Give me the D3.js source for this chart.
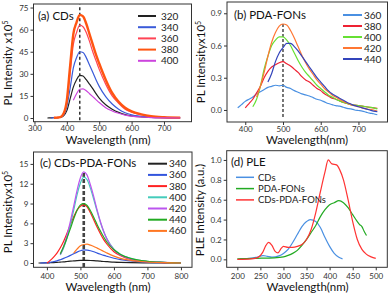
<!DOCTYPE html>
<html>
<head>
<meta charset="utf-8">
<script src="https://cdn.jsdelivr.net/npm/d3@7"></script>
<style>
  body { margin: 0; background: #fff; }
  svg { display: block; font-family: Lato, sans-serif; }
</style>
</head>
<body>
<svg id="chart" width="390" height="296"></svg>
<script>
// ---- (a) CDs ----
const wlA = [340, 350, 360, 370, 380, 390, 400, 410, 420, 430, 440, 450, 460, 470, 480, 490, 500, 520, 540, 560, 580, 600, 630, 660, 700, 750];
const a320 = [0, 0.1, 0.2, 0.3, 0.5, 1.5, 5, 13, 21, 26, 29, 28.5, 26, 23, 20, 16.5, 13.5, 9, 6, 3.8, 2.3, 1.4, 0.8, 0.4, 0.2, 0.1];
const a340 = [null, 0, 0.2, 0.3, 0.5, 2, 8, 20, 34, 41, 45, 44.5, 41, 36, 31, 26, 21.5, 14.5, 9.5, 6, 3.6, 2.2, 1.2, 0.6, 0.3, 0.1];
const a360 = [null, null, 0.2, 0.3, 0.6, 3, 11, 30, 50, 58, 63, 62, 58, 52, 45, 39, 33, 23, 15, 10, 6, 4, 2.2, 1, 0.4, 0.2];
const a380 = [null, null, 0.2, 0.3, 0.6, 3, 12, 35, 57, 65, 70, 69, 64, 57, 50, 43, 37, 26, 17, 11, 7, 4.5, 2.5, 1.2, 0.5, 0.2];
const a400 = [null, null, null, null, null, null, null, null, 12, 16.5, 19.5, 19.8, 18.5, 16.5, 14.5, 12.5, 10.5, 7, 4.8, 3.2, 2, 1.3, 0.7, 0.3, 0.1, 0];
const namesA = ["320", "340", "360", "380", "400"];
const xTicksA = [300, 400, 500, 600, 700];
const yTicksA = [0, 15, 30, 45, 60, 75];

// ---- (b) PDA-FONs ----
const wlB = [380, 390, 400, 410, 420, 430, 440, 450, 460, 470, 480, 490, 500, 510, 520, 530, 540, 550, 560, 570, 580, 590, 600, 610, 620, 630, 640, 650, 660, 670, 680, 690, 700, 710, 720, 730, 740, 750];
const b360 = [0.02, 0.05, 0.08, 0.1, 0.12, 0.15, 0.17, 0.19, 0.21, 0.22, 0.23, 0.225, 0.23, 0.21, 0.2, 0.18, 0.165, 0.15, 0.14, 0.13, 0.115, 0.1, 0.09, 0.075, 0.06, 0.05, 0.04, 0.035, 0.025, 0.015, 0.01, 0, -0.005, -0.01, -0.02, -0.03, -0.035, -0.045];
const b380 = [null, null, 0.02, 0.06, 0.1, 0.16, 0.22, 0.3, 0.36, 0.4, 0.42, 0.44, 0.45, 0.43, 0.41, 0.38, 0.35, 0.31, 0.28, 0.26, 0.23, 0.2, 0.18, 0.15, 0.13, 0.11, 0.1, 0.085, 0.07, 0.06, 0.05, 0.045, 0.04, 0.035, 0.03, 0.025, 0.02, 0.015];
const b400 = [null, null, null, null, 0.03, 0.1, 0.22, 0.38, 0.5, 0.6, 0.65, 0.68, 0.68, 0.65, 0.6, 0.53, 0.46, 0.4, 0.35, 0.31, 0.27, 0.23, 0.2, 0.17, 0.14, 0.12, 0.1, 0.085, 0.07, 0.06, 0.05, 0.045, 0.04, 0.035, 0.03, 0.025, 0.02, 0.01];
const b420 = [null, null, null, null, null, 0.12, 0.22, 0.35, 0.5, 0.63, 0.72, 0.78, 0.8, 0.79, 0.74, 0.67, 0.59, 0.51, 0.44, 0.38, 0.33, 0.28, 0.24, 0.2, 0.17, 0.14, 0.12, 0.1, 0.08, 0.065, 0.05, 0.04, 0.03, 0.02, 0.01, 0.005, 0, -0.01];
const b440 = [null, null, null, null, null, null, null, null, 0.26, 0.34, 0.45, 0.53, 0.58, 0.62, 0.62, 0.59, 0.55, 0.5, 0.45, 0.4, 0.35, 0.3, 0.26, 0.22, 0.18, 0.15, 0.13, 0.11, 0.09, 0.07, 0.055, 0.04, 0.03, 0.02, 0.01, 0, -0.01, -0.015];
const namesB = ["360", "380", "400", "420", "440"];
const xTicksB = [400, 500, 600, 700];
const yTicksB = [0, 0.3, 0.6, 0.9];

// ---- (c) CDs-PDA-FONs ----
const wlC = [375, 380, 400, 410, 420, 430, 440, 450, 460, 470, 480, 490, 500, 510, 520, 530, 540, 550, 560, 570, 580, 600, 620, 650, 700, 750, 800];
const c340 = [0, 0, 0.02, 0.04, 0.06, 0.1, 0.14, 0.18, 0.23, 0.28, 0.32, 0.36, 0.39, 0.41, 0.4, 0.38, 0.35, 0.31, 0.27, 0.23, 0.2, 0.14, 0.1, 0.06, 0.02, 0.01, 0];
const c360 = [null, 0, 0.05, 0.1, 0.2, 0.32, 0.5, 0.7, 0.92, 1.15, 1.4, 1.65, 1.85, 1.98, 1.95, 1.85, 1.7, 1.5, 1.32, 1.15, 1, 0.72, 0.5, 0.3, 0.1, 0.03, 0];
const c380 = [null, null, 0, 0.4, 0.9, 1.5, 2.3, 3.3, 4.5, 5.8, 7, 8, 8.6, 8.8, 8.5, 7.6, 6.5, 5.4, 4.4, 3.5, 2.8, 1.7, 1.1, 0.55, 0.2, 0.05, 0];
const c400 = [null, null, null, null, null, null, 1.2, 2.3, 3.8, 5.8, 8, 10.3, 12.1, 13, 12.6, 11.3, 9.6, 7.8, 6.1, 4.7, 3.6, 2.1, 1.3, 0.7, 0.25, 0.1, 0];
const c420 = [null, null, null, null, null, null, 1.3, 2.5, 4.2, 6.3, 8.6, 11, 12.9, 13.8, 13.3, 11.8, 10, 8, 6.2, 4.7, 3.5, 2, 1.2, 0.6, 0.2, 0.1, 0];
const c440 = [null, null, null, null, null, null, 1.4, 2.5, 3.8, 5.2, 6.7, 8, 8.8, 9, 8.7, 7.9, 6.9, 5.8, 4.8, 3.9, 3.1, 2, 1.3, 0.7, 0.25, 0.1, 0];
const c460 = [null, null, null, null, null, null, null, null, null, null, 1.5, 2.1, 2.6, 2.8, 2.85, 2.7, 2.5, 2.25, 2, 1.75, 1.5, 1.05, 0.7, 0.4, 0.15, 0.05, 0];
const namesC = ["340", "360", "380", "400", "420", "440", "460"];
const xTicksC = [400, 500, 600, 700, 800];
const yTicksC = [0, 3, 6, 9, 12, 15];

// ---- (d) PLE ----
const wlCDs = [205, 220, 240, 250, 256, 265, 275, 290, 300, 310, 320, 330, 340, 350, 358, 370, 380, 390, 400, 410, 420, 428];
const pleCDs = [0.005, 0.008, 0.02, 0.032, 0.038, 0.03, 0.022, 0.035, 0.06, 0.1, 0.17, 0.25, 0.33, 0.38, 0.4, 0.38, 0.32, 0.22, 0.13, 0.06, 0.02, 0.005];
const wlPDA = [200, 240, 280, 300, 310, 320, 330, 340, 350, 360, 370, 380, 390, 400, 410, 420, 430, 440, 450, 460, 465, 470, 475, 480];
const plePDA = [0.005, 0.01, 0.015, 0.025, 0.04, 0.06, 0.09, 0.14, 0.2, 0.27, 0.34, 0.43, 0.5, 0.55, 0.57, 0.59, 0.57, 0.52, 0.45, 0.38, 0.35, 0.33, 0.28, 0.24];
const wlMix = [200, 230, 245, 255, 262, 268, 275, 282, 288, 295, 300, 310, 320, 330, 340, 350, 360, 370, 380, 390, 397, 405, 415, 422, 430, 440, 450, 460, 470, 480, 490, 500];
const pleMix = [0, 0.005, 0.02, 0.07, 0.14, 0.17, 0.14, 0.08, 0.065, 0.11, 0.13, 0.12, 0.12, 0.13, 0.15, 0.2, 0.3, 0.47, 0.68, 0.88, 1.0, 0.96, 0.95, 0.9, 0.8, 0.6, 0.38, 0.2, 0.1, 0.05, 0.025, 0.01];
const namesD = ["CDs", "PDA-FONs", "CDs-PDA-FONs"];
const xTicksD = [200, 250, 300, 350, 400, 450, 500];
const yTicksD = [0, 0.2, 0.4, 0.6, 0.8, 1.0];

const svg = d3.select("#chart");

function drawPanel(p) {
  const x = d3.scaleLinear().domain(p.xDomain).range([p.box.l, p.box.r]);
  const y = d3.scaleLinear().domain(p.yDomain).range([p.box.b, p.box.t]);
  const g = svg.append("g");

  // axes
  const xAxis = g.append("g")
    .attr("transform", `translate(0,${p.box.b})`)
    .call(d3.axisBottom(x).tickValues(p.xTicks).tickSize(3).tickPadding(p.xPad).tickSizeOuter(0));
  const yAxis = g.append("g")
    .attr("transform", `translate(${p.box.l},0)`)
    .call(d3.axisLeft(y).tickValues(p.yTicks).tickSize(3).tickPadding(2).tickFormat(p.yFormat).tickSizeOuter(0));
  [xAxis, yAxis].forEach(ax => {
    ax.select(".domain").remove();
    ax.selectAll("line").attr("stroke", "#333");
    ax.selectAll("text").attr("font-size", 8).attr("fill", "#333")
      .attr("font-family", "Lato, sans-serif");
  });

  // frame
  g.append("rect")
    .attr("x", p.box.l).attr("y", p.box.t)
    .attr("width", p.box.r - p.box.l).attr("height", p.box.b - p.box.t)
    .attr("fill", "none").attr("stroke", "#333").attr("stroke-width", 1);

  // dashed marker
  if (p.dash) {
    g.append("line")
      .attr("x1", x(p.dash.x)).attr("x2", x(p.dash.x))
      .attr("y1", y(p.dash.y0)).attr("y2", y(p.dash.y1))
      .attr("stroke", p.dash.color).attr("stroke-width", p.dash.width)
      .attr("stroke-dasharray", p.dash.pattern);
  }

  // series
  const line = d3.line()
    .defined(d => d[1] !== null)
    .x(d => x(d[0])).y(d => y(d[1]))
    .curve(d3.curveMonotoneX);
  p.series.forEach(s => {
    g.append("path")
      .datum(s.x.map((w, i) => [w, s.y[i]]))
      .attr("fill", "none").attr("stroke", s.color)
      .attr("stroke-width", s.width || 1.2)
      .attr("stroke-linejoin", "round")
      .attr("d", line);
  });

  // panel title
  g.append("text").attr("x", p.title.x).attr("y", p.title.y)
    .attr("font-size", 11.5).attr("fill", "#111").text(p.title.text);

  // legend
  p.series.forEach((s, i) => {
    const ly = p.legend.y0 + i * p.legend.dy;
    g.append("line").attr("x1", p.legend.x1).attr("x2", p.legend.x2)
      .attr("y1", ly).attr("y2", ly)
      .attr("stroke", s.color).attr("stroke-width", p.legend.lw || 1.8);
    g.append("text").attr("x", p.legend.tx).attr("y", ly).attr("dy", "0.35em")
      .attr("font-size", p.legend.fs || 10).attr("fill", "#222").text(s.name);
  });

  // axis labels
  g.append("text").attr("x", p.xLabelX).attr("y", p.box.b + p.xLabelDy)
    .attr("text-anchor", "middle").attr("font-size", 11.5).attr("fill", "#111").text(p.xLabel);

  const yl = g.append("text")
    .attr("transform", `translate(${p.yLabelX},${p.yLabelY}) rotate(-90)`)
    .attr("text-anchor", "middle").attr("font-size", 11.5).attr("fill", "#111");
  yl.append("tspan").text(p.yLabel[0]);
  if (p.yLabel[1]) {
    yl.append("tspan").attr("dy", -4.5).attr("font-size", 7).text(p.yLabel[1]);
  }
}

const f0 = d3.format("d");
const f1 = d3.format(".1f");

drawPanel({
  box: { l: 33.5, r: 191.5, t: 4, b: 121.7 },
  xDomain: [297, 785], yDomain: [-2.5, 77.4],
  xTicks: xTicksA, yTicks: yTicksA, yFormat: f0, xPad: 1,
  xLabel: "Wavelength (nm)", xLabelX: 108, xLabelDy: 22.5,
  yLabel: ["PL Intensity x10", "5"], yLabelX: 12, yLabelY: 63,
  title: { x: 38, y: 19.5, text: "(a) CDs" },
  legend: { x1: 138, x2: 156, tx: 161, y0: 16, dy: 11.2, lw: 2 },
  dash: { x: 440, y0: -1.5, y1: 77, color: "#111", width: 1.3, pattern: "3,2.5" },
  series: [
    { name: namesA[0], x: wlA, y: a320, color: "#222" },
    { name: namesA[1], x: wlA, y: a340, color: "#3a5bd9" },
    { name: namesA[2], x: wlA, y: a360, color: "#ff4455" },
    { name: namesA[3], x: wlA, y: a380, color: "#ff5511", width: 2.4 },
    { name: namesA[4], x: wlA, y: a400, color: "#cc44dd" }
  ]
});

drawPanel({
  box: { l: 227, r: 387.5, t: 2, b: 122 },
  xDomain: [351.6, 777], yDomain: [-0.112, 1.005],
  xTicks: xTicksB, yTicks: yTicksB, yFormat: f1, xPad: 1,
  xLabel: "Wavelength(nm)", xLabelX: 307, xLabelDy: 22.3,
  yLabel: ["PL Intensityx10", "5"], yLabelX: 205, yLabelY: 62,
  title: { x: 234, y: 19, text: "(b) PDA-FONs" },
  legend: { x1: 343, x2: 362, tx: 364, y0: 15, dy: 11, lw: 2 },
  dash: { x: 500, y0: -0.065, y1: 0.81, color: "#555", width: 1.6, pattern: "3,2" },
  series: [
    { name: namesB[0], x: wlB, y: b360, color: "#4a90e2" },
    { name: namesB[1], x: wlB, y: b380, color: "#ee2233" },
    { name: namesB[2], x: wlB, y: b400, color: "#66e033" },
    { name: namesB[3], x: wlB, y: b420, color: "#ff7733" },
    { name: namesB[4], x: wlB, y: b440, color: "#3344bb" }
  ]
});

drawPanel({
  box: { l: 33.5, r: 192, t: 152, b: 267.3 },
  xDomain: [360, 833], yDomain: [-0.65, 16.8],
  xTicks: xTicksC, yTicks: yTicksC, yFormat: f0, xPad: 3,
  xLabel: "Wavelength (nm)", xLabelX: 108, xLabelDy: 24,
  yLabel: ["PL Intensityx10", "5"], yLabelX: 12, yLabelY: 212,
  title: { x: 40, y: 167, text: "(c) CDs-PDA-FONs" },
  legend: { x1: 148, x2: 167, tx: 169, y0: 163.7, dy: 11.2, lw: 2 },
  dash: { x: 510, y0: -0.6, y1: 13.9, color: "#444", width: 2.6, pattern: "4,2" },
  series: [
    { name: namesC[0], x: wlC, y: c340, color: "#222" },
    { name: namesC[1], x: wlC, y: c360, color: "#3355dd" },
    { name: namesC[2], x: wlC, y: c380, color: "#ff2222" },
    { name: namesC[3], x: wlC, y: c400, color: "#44ccbb" },
    { name: namesC[4], x: wlC, y: c420, color: "#bb55ee" },
    { name: namesC[5], x: wlC, y: c440, color: "#22aa22" },
    { name: namesC[6], x: wlC, y: c460, color: "#ff7722" }
  ]
});

drawPanel({
  box: { l: 226.7, r: 387.3, t: 150.7, b: 267.3 },
  xDomain: [177, 525], yDomain: [-0.08, 1.093],
  xTicks: xTicksD, yTicks: yTicksD, yFormat: f1, xPad: 3,
  xLabel: "Wavelength(nm)", xLabelX: 307.5, xLabelDy: 24,
  yLabel: ["PLE Intensity (a.u.)"], yLabelX: 204, yLabelY: 210,
  title: { x: 231, y: 165.5, text: "(d) PLE" },
  legend: { x1: 236, x2: 254, tx: 258, y0: 177.3, dy: 11.3, lw: 1.5, fs: 9.5 },
  series: [
    { name: namesD[0], x: wlCDs, y: pleCDs, color: "#4a90e2" },
    { name: namesD[1], x: wlPDA, y: plePDA, color: "#22aa22" },
    { name: namesD[2], x: wlMix, y: pleMix, color: "#ff3333" }
  ]
});
</script>
</body>
</html>
